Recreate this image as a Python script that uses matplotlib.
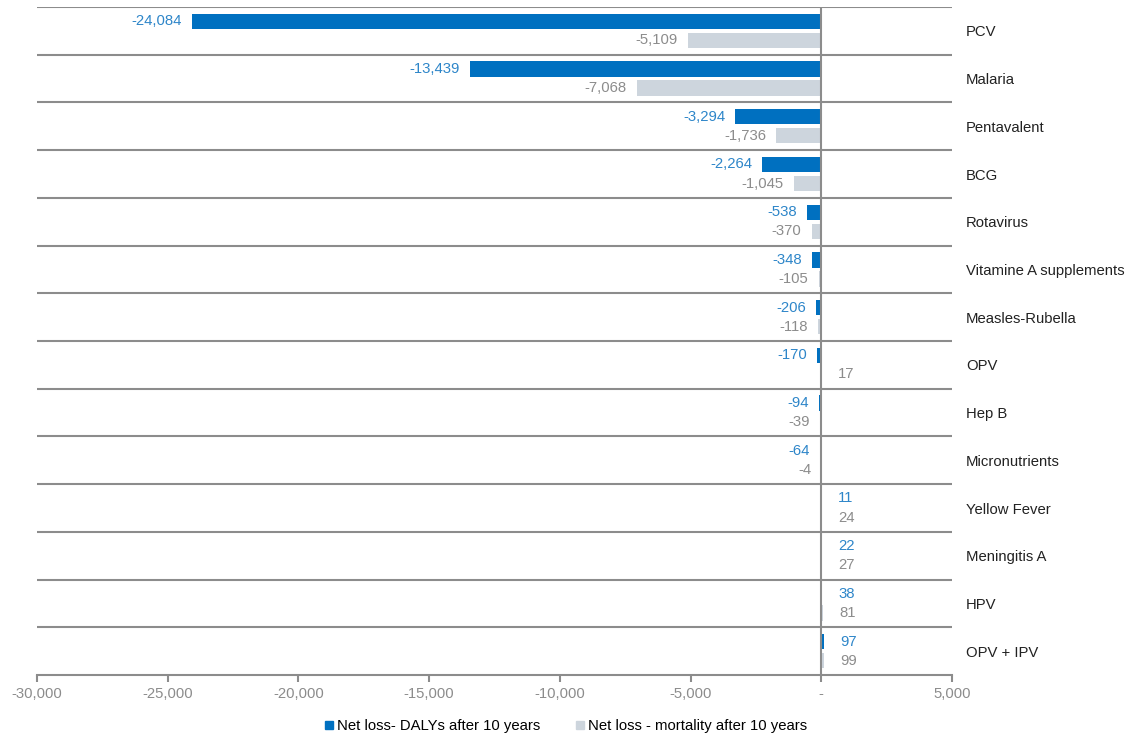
import numpy as np
import matplotlib
matplotlib.use("Agg")
import matplotlib.pyplot as plt
from matplotlib.lines import Line2D

plt.rcParams['font.family'] = ['Liberation Sans', 'DejaVu Sans']

# Data
categories = ["PCV", "Malaria", "Pentavalent", "BCG", "Rotavirus",
              "Vitamine A supplements", "Measles-Rubella", "OPV", "Hep B",
              "Micronutrients", "Yellow Fever", "Meningitis A", "HPV",
              "OPV + IPV"]
dalys = [-24084, -13439, -3294, -2264, -538, -348, -206, -170, -94, -64,
         11, 22, 38, 97]
mortality = [-5109, -7068, -1736, -1045, -370, -105, -118, 17, -39, -4,
             24, 27, 81, 99]
x_ticks = [-30000, -25000, -20000, -15000, -10000, -5000, 0, 5000]

blue = "#0070C0"
grey = "#CDD5DD"
blue_txt = "#2E86C9"
grey_txt = "#8C8C8C"
line_col = "#8C8C8C"
fs = 10.7

fig = plt.figure(figsize=(11.33, 7.40), dpi=100)
ax = fig.add_axes([37 / 1133, 1 - 675 / 740, (952 - 37) / 1133, (675 - 7) / 740])

y = np.arange(len(categories))
h = 0.32
ax.barh(y - 0.2, dalys, height=h, color=blue, zorder=3)
ax.barh(y + 0.2, mortality, height=h, color=grey, zorder=3)

# value labels
for vals, dy, col in [(dalys, -0.2, blue_txt), (mortality, 0.2, grey_txt)]:
    for yi, v in zip(y, vals):
        off = -10 if v < 0 else 16
        ax.annotate(f"{v:,}", (v, yi + dy), xytext=(off, 0),
                    textcoords="offset pixels", ha="right" if v < 0 else "left",
                    va="center", color=col, fontsize=fs)

# separators and zero line
for b in np.arange(-0.5, len(categories) - 0.5):
    ax.axhline(b, color=line_col, lw=1.5, zorder=1)
ax.axvline(0, color=line_col, lw=1.5, zorder=4)

ax.set_xlim(-30000, 5000)
ax.set_ylim(len(categories) - 0.5, -0.5)

for s in ["top", "left", "right"]:
    ax.spines[s].set_visible(False)
ax.spines["bottom"].set_color(line_col)
ax.spines["bottom"].set_linewidth(1.5)

ax.set_xticks(x_ticks)
ax.set_xticklabels(["-" if t == 0 else f"{t:,}" for t in x_ticks])
ax.tick_params(axis="x", colors=line_col, labelcolor=grey_txt, length=5,
               width=1.5, labelsize=fs, pad=4)

ax.yaxis.tick_right()
ax.set_yticks(y)
ax.set_yticklabels(categories)
ax.tick_params(axis="y", length=0, pad=10, labelsize=fs, labelcolor="#222222")

handles = [Line2D([], [], marker="s", ls="", color=blue, markersize=6),
           Line2D([], [], marker="s", ls="", color=grey, markersize=6)]
fig.legend(handles, ["Net loss- DALYs after 10 years",
                     "Net loss - mortality after 10 years"],
           loc="center", bbox_to_anchor=(565 / 1133, 1 - 726 / 740), ncol=2,
           frameon=False, fontsize=fs, handletextpad=0.1, columnspacing=2.3,
           handlelength=0.8)

fig.savefig("out.png", dpi=100)
